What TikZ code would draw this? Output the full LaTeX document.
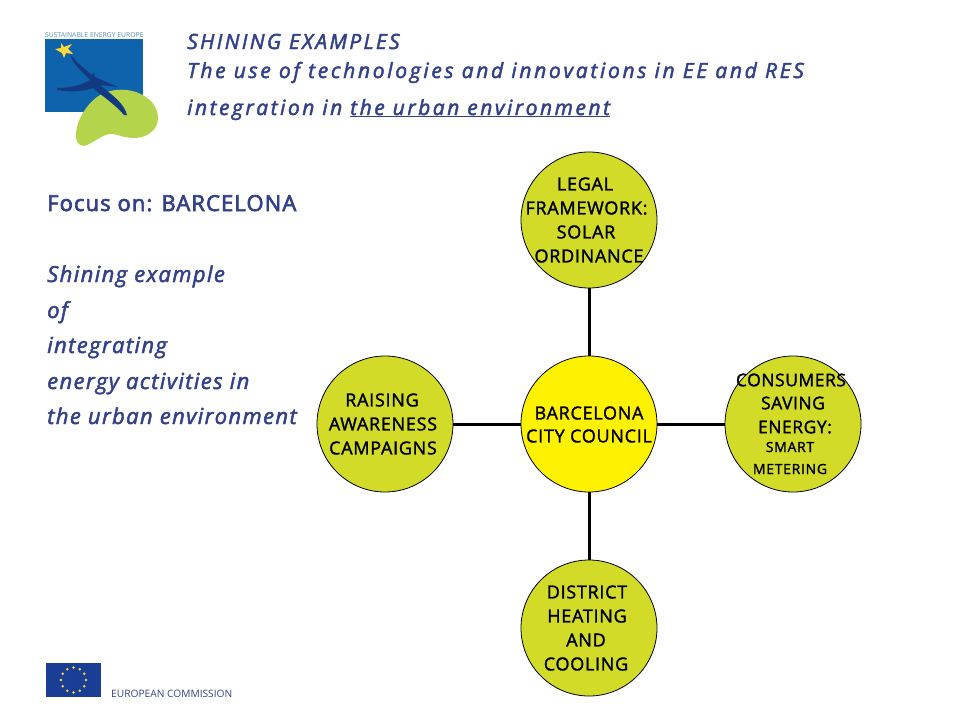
\documentclass[tikz,border=0pt]{standalone}
\usepackage{fontspec}
\setmainfont{Open Sans}
\newfontfamily\discfont[FakeBold=1.6,LetterSpace=4]{Open Sans}
\newfontfamily\discnarrow[FakeBold=1.6,LetterSpace=3]{Open Sans}
\newfontfamily\smallfont[FakeBold=1.6,LetterSpace=5]{Open Sans}
\newfontfamily\titlefont[FakeBold=2.2,LetterSpace=12]{Open Sans Italic}
\newfontfamily\titlewide[FakeBold=2.2,LetterSpace=12.85]{Open Sans Italic}
\newfontfamily\titlehead[FakeBold=2.2,LetterSpace=11]{Open Sans Italic}
\newfontfamily\sidefont[FakeBold=3,LetterSpace=5]{Open Sans}
\newfontfamily\sideitfont[FakeBold=2.2,LetterSpace=6.3]{Open Sans Italic}
\definecolor{titleblue}{HTML}{33418A}
\definecolor{disccol}{HTML}{D2DC28}
\definecolor{logoblue}{HTML}{0F62AC}
\definecolor{logogreen}{HTML}{B4D44C}
\definecolor{navy}{HTML}{123A80}
\definecolor{flagblue}{HTML}{1A3E96}
\definecolor{star}{HTML}{FFD83A}
\tikzset{
 disc/.style={circle,draw=black,line width=0.8pt,fill=#1,minimum size=136pt,inner sep=0pt},
 link/.style={line width=3pt,draw=black},
 ctext/.style={font=\discfont\fontsize{18}{20}\selectfont,text=black,inner sep=0pt,anchor=center},
 etext/.style={font=\discnarrow\fontsize{17.5}{20}\selectfont,text=black,inner sep=0pt,anchor=center},
 stext/.style={font=\smallfont\fontsize{14}{18}\selectfont,text=black,inner sep=0pt,anchor=center},
 title/.style={font=\titlefont\fontsize{21}{24}\selectfont,text=titleblue,inner sep=0pt,anchor=base west},
 titlemid/.style={font=\titlewide\fontsize{21}{24}\selectfont,text=titleblue,inner sep=0pt,anchor=base west},
 titletop/.style={font=\titlehead\fontsize{21}{24}\selectfont,text=titleblue,inner sep=0pt,anchor=base west},
 side/.style={font=\sidefont\fontsize{22}{26}\selectfont,text=titleblue,inner sep=0pt,anchor=base west},
 sideit/.style={font=\sideitfont\fontsize{22}{26}\selectfont,text=titleblue,inner sep=0pt,anchor=base west},
}
\begin{document}
\begin{tikzpicture}[x=1pt,y=-1pt]
\useasboundingbox (0,0) rectangle (960,720);
% logo
\node[font=\fontsize{6.8}{8}\selectfont,text=logoblue!70,inner sep=0pt,anchor=west] (logotext) at (45,35) {SUSTAINABLE ENERGY EUROPE};
\fill[logoblue] (45,39) rectangle (143,112);
\fill[logogreen] (76,133) .. controls (77,120) and (86,105) .. (97,97)
 .. controls (108,89) and (124,88) .. (136,92)
 .. controls (150,97) and (158,107) .. (158,118)
 .. controls (158,130) and (147,138) .. (134,138)
 .. controls (122,138) and (116,133) .. (109,134)
 .. controls (100,136) and (92,144) .. (84,146)
 .. controls (78,146) and (75,140) .. (76,133) -- cycle;
\fill[navy] (70,54) .. controls (76,62) and (86,70) .. (92,75) -- (94,72) -- (95,77) -- (118,87) -- (100,85)
 .. controls (112,95) and (124,103) .. (127,115) -- (124,115)
 .. controls (116,105) and (102,96) .. (93,88)
 .. controls (82,92) and (68,92) .. (57,90) -- (57,88)
 .. controls (68,88) and (80,86) .. (90,80)
 .. controls (83,72) and (72,64) .. (70,54) -- cycle;
\fill[star] (61,43) -- (64,47) -- (72,44) -- (68,49) -- (73,54) -- (66,53) -- (64,58) -- (62,53) -- (55,49) -- (61,48) -- cycle;
% EU flag
\fill[flagblue] (46,663) rectangle (101,697);
\foreach \a in {0,30,...,330}
  \fill[star] ({73.5+12.5*cos(\a)},{680+12.5*sin(\a)}) circle (1.4);
\node[font=\fontsize{10.2}{11}\selectfont,text=titleblue,inner sep=0pt,anchor=base west] (ec) at (111,697) {EUROPEAN COMMISSION};
% titles
\node[titletop] (t1) at (187,49) {SHINING EXAMPLES};
\node[titlemid] (t2) at (187,78) {The use of technologies and innovations in EE and RES};
\node[title] (t3) at (187,115) {integration in \underline{the urban environment}};
% side text
\node[side] (s1) at (47,211) {Focus on: BARCELONA};
\node[sideit] (s2) at (47,282) {Shining example};
\node[sideit] (s3) at (47,318) {of};
\node[sideit] (s4) at (47,353) {integrating};
\node[sideit] (s5) at (47,389) {energy activities in};
\node[sideit] (s6) at (47,424) {the urban environment};
% discs
\node[disc=yellow] (c) at (589,424) {};
\node[disc=disccol] (n) at (589,220) {};
\node[disc=disccol] (e) at (793,424) {};
\node[disc=disccol] (so) at (589,628) {};
\node[disc=disccol] (w) at (385,424) {};
\draw[link] (c) -- (n);
\draw[link] (c) -- (e);
\draw[link] (c) -- (so);
\draw[link] (c) -- (w);
% disc texts
\node[ctext] (c1) at (589,413) {BARCELONA};
\node[ctext] (c2) at (589,436) {CITY COUNCIL};
\node[ctext] (n1) at (585,184) {LEGAL};
\node[ctext] (n2) at (586.5,208) {FRAMEWORK:};
\node[ctext] (n3) at (586,232) {SOLAR};
\node[ctext] (n4) at (589,256) {ORDINANCE};
\node[etext] (e1) at (791,380) {CONSUMERS};
\node[etext] (e2) at (793,403) {SAVING};
\node[etext] (e3) at (795,427) {ENERGY:};
\node[stext] (e4) at (790,447) {SMART};
\node[stext] (e5) at (790,469) {METERING};
\node[ctext] (so1) at (587,592) {DISTRICT};
\node[ctext] (so2) at (587,616) {HEATING};
\node[ctext] (so3) at (586,640) {AND};
\node[ctext] (so4) at (586,664) {COOLING};
\node[ctext] (w1) at (382,400) {RAISING};
\node[ctext] (w2) at (383,424) {AWARENESS};
\node[ctext] (w3) at (383,448) {CAMPAIGNS};
\end{tikzpicture}
\end{document}
